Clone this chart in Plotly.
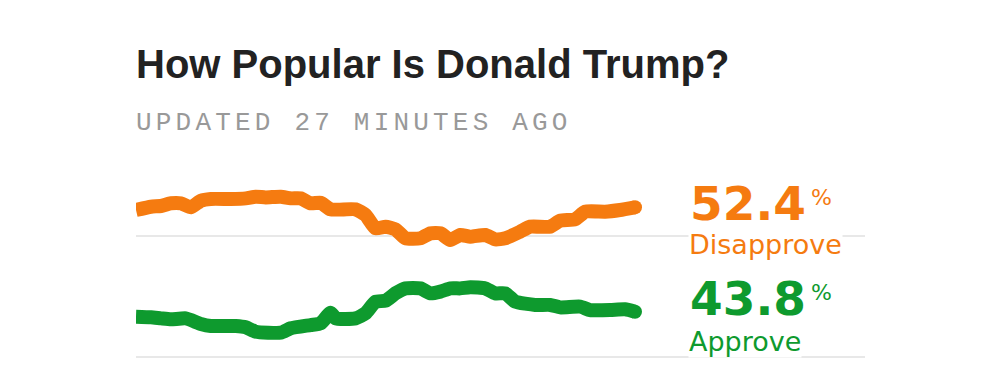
import plotly.graph_objects as go

# ---- data ----
dis_days = [0, 3, 5, 7, 9, 11, 13, 15, 19, 22, 24, 26, 29, 31, 33, 35, 37, 39, 44, 46, 48, 50,
            52, 54, 57, 59, 61, 63, 65, 67, 70, 72, 74, 77, 79, 83, 85, 88, 90, 94, 97, 100]
dis_vals = [52.11, 52.38, 52.44, 52.66, 52.66, 52.33, 52.88, 53.02, 53.02, 53.07, 53.21, 53.15,
            53.21, 53.07, 53.07, 52.66, 52.71, 52.16, 52.16, 51.69, 50.59, 50.73, 50.51, 49.77,
            49.77, 50.18, 50.18, 49.63, 50.04, 49.90, 50.04, 49.68, 49.77, 50.32, 50.73, 50.73,
            51.23, 51.34, 51.97, 51.97, 52.11, 52.33]

app_days = [0, 3, 5, 7, 10, 13, 15, 20, 22, 24, 29, 31, 35, 37, 39, 40, 44, 46, 48, 50, 52, 54,
            57, 59, 61, 63, 65, 67, 70, 72, 74, 76, 80, 83, 85, 89, 91, 95, 98, 100]
app_vals = [43.29, 43.24, 43.15, 43.07, 43.15, 42.69, 42.52, 42.52, 42.41, 42.05, 41.97, 42.33,
            42.60, 42.74, 43.62, 43.15, 43.15, 43.57, 44.53, 44.61, 45.22, 45.63, 45.63, 45.22,
            45.36, 45.63, 45.63, 45.72, 45.63, 45.22, 45.22, 44.53, 44.26, 44.26, 44.06, 44.12,
            43.84, 43.84, 43.90, 43.70]

grid_vals = [40, 50]
latest_dis = "52.4"
latest_app = "43.8"
title_text = "How Popular Is Donald Trump?"
subtitle_text = "UPDATED 27 MINUTES AGO"

ORANGE = "#f57b10"
GREEN = "#0e9a2e"

W, H = 1000, 387
ML, MR, MT, MB = 136, 135, 170, 17
PW, PH = W - ML - MR, H - MT - MB


def px(x):
    return (x - ML) / PW


def py(y):
    return (H - MB - y) / PH


fig = go.Figure()
for days, vals, col in [(dis_days, dis_vals, ORANGE), (app_days, app_vals, GREEN)]:
    fig.add_trace(go.Scatter(x=days, y=vals, mode="lines",
                             line=dict(color=col, width=14, shape="spline", smoothing=0.5),
                             hoverinfo="skip", showlegend=False))
    fig.add_trace(go.Scatter(x=[days[-1]], y=[vals[-1]], mode="markers",
                             marker=dict(color=col, size=14, line=dict(width=0)),
                             hoverinfo="skip", showlegend=False, cliponaxis=False))

ann = []
ann.append(dict(text="<b>" + title_text + "</b>", x=px(135), y=py(41), xanchor="left", yanchor="top",
                font=dict(family="Liberation Sans", size=40, color="#222222")))
ann.append(dict(text='<span style="letter-spacing:4.2px">' + subtitle_text + "</span>",
                x=px(135), y=py(107), xanchor="left", yanchor="top",
                font=dict(family="Liberation Mono", size=26, color="#999999")))

ann.append(dict(text="<b>" + latest_dis + "</b>", x=px(689), y=py(175), xanchor="left", yanchor="top",
                font=dict(family="DejaVu Sans", size=47, color=ORANGE), bgcolor="white"))
ann.append(dict(text="%", x=px(810), y=py(184), xanchor="left", yanchor="top",
                font=dict(family="DejaVu Sans", size=22, color=ORANGE)))
ann.append(dict(text="Disapprove", x=px(688), y=py(228), xanchor="left", yanchor="top",
                font=dict(family="DejaVu Sans", size=27, color=ORANGE), bgcolor="white"))

ann.append(dict(text="<b>" + latest_app + "</b>", x=px(689), y=py(270), xanchor="left", yanchor="top",
                font=dict(family="DejaVu Sans", size=47, color=GREEN), bgcolor="white"))
ann.append(dict(text="%", x=px(810), y=py(279), xanchor="left", yanchor="top",
                font=dict(family="DejaVu Sans", size=22, color=GREEN)))
ann.append(dict(text="Approve", x=px(688), y=py(325), xanchor="left", yanchor="top",
                font=dict(family="DejaVu Sans", size=27, color=GREEN), bgcolor="white"))

for a in ann:
    a.update(xref="paper", yref="paper", showarrow=False, borderpad=0)

y_top = 50 + (235.5 - MT) / 12.1
y_bot = 40 - (H - MB - 356.5) / 12.1
fig.update_layout(
    width=W, height=H, margin=dict(l=ML, r=MR, t=MT, b=MB),
    paper_bgcolor="white", plot_bgcolor="white",
    xaxis=dict(range=[0, (865 - ML) / 4.99], showgrid=False, zeroline=False,
               showticklabels=False, ticks="", fixedrange=True),
    yaxis=dict(range=[y_bot, y_top], tickvals=grid_vals, showgrid=True, gridcolor="#e8e8e8",
               gridwidth=2, zeroline=False, showticklabels=False, ticks="", fixedrange=True),
    annotations=ann,
)
fig.write_html("out.html", config={"displayModeBar": False},
               post_script="document.body.style.margin='0';document.body.style.overflow='hidden';")
